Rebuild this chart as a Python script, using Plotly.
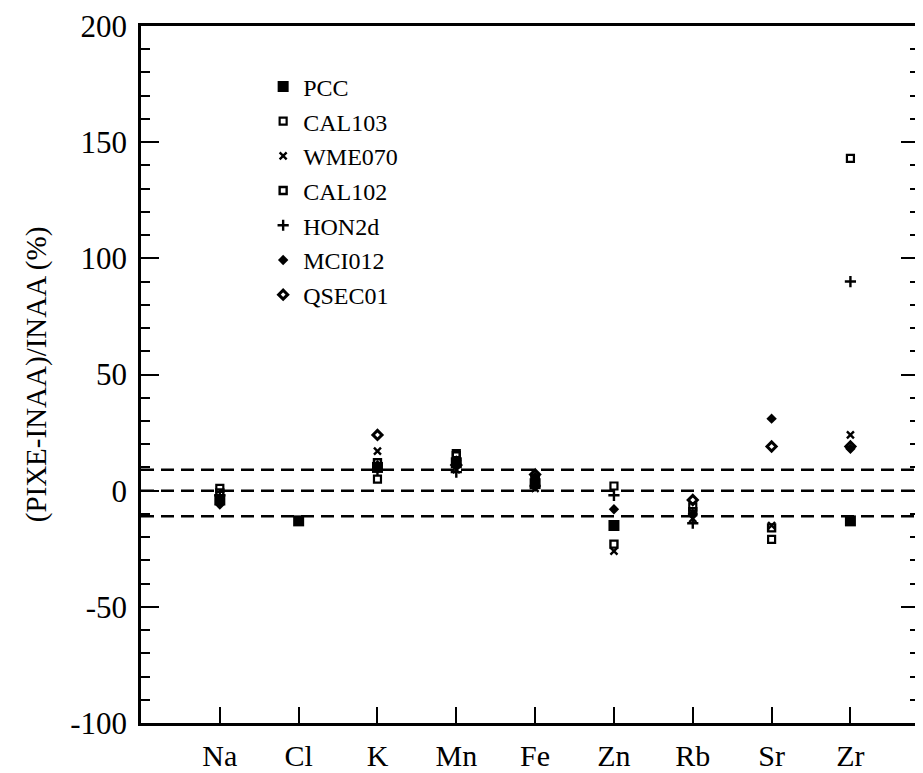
import plotly.graph_objects as go

elements = ["Na", "Cl", "K", "Mn", "Fe", "Zn", "Rb", "Sr", "Zr"]

pcc    = [-4, -13, 10, 12, 3, -15, None, None, -13]
cal103 = [1, None, 5, 16, 5, 2, -7, -21, 143]
wme070 = [-3, None, 17, 9, 1, -26, -12, -15, 24]
cal102 = [-1, None, 12, 15, 4, -23, -9, -16, None]
hon2d  = [-2, None, 9, 8, 2, -2, -14, None, 90]
mci012 = [-6, None, 11, 13, 6, -8, -10, 31, 18]
qsec01 = [None, None, 24, 11, 7, None, -4, 19, 19]

series_names = ["PCC", "CAL103", "WME070", "CAL102", "HON2d", "MCI012", "QSEC01"]
series_vals = [pcc, cal103, wme070, cal102, hon2d, mci012, qsec01]

ref_lines = [9, 0, -11]
y_ticks = [-100, -50, 0, 50, 100, 150, 200]
y_tick_text = ["-100", "-50", "0", "50", "100", "150", "200"]

styles = {
    "PCC":    dict(symbol="square", size=11, color="black", line=dict(width=0)),
    "CAL103": dict(symbol="square-open", size=7, color="black", line=dict(width=2.2, color="black")),
    "WME070": dict(symbol="x-thin-open", size=7, color="black", line=dict(width=2.4, color="black")),
    "CAL102": dict(symbol="square-open", size=7, color="black", line=dict(width=2.4, color="black")),
    "HON2d":  dict(symbol="cross-thin-open", size=8, color="black", line=dict(width=2.4, color="black")),
    "MCI012": dict(symbol="diamond", size=8, color="black", line=dict(width=0)),
    "QSEC01": dict(symbol="diamond-open", size=7, color="black", line=dict(width=3, color="black")),
}

fig = go.Figure()
for name, vals in zip(series_names, series_vals):
    xs = [e for e, v in zip(elements, vals) if v is not None]
    ys = [v for v in vals if v is not None]
    fig.add_trace(go.Scatter(x=xs, y=ys, mode="markers", name=name,
                             legendgroup=name, marker=styles[name]))

for v in ref_lines:
    fig.add_shape(type="line", xref="paper", x0=0, x1=1, yref="y", y0=v, y1=v,
                  line=dict(color="black", width=2.5, dash="13px,7px"), layer="below")

font_family = "Liberation Serif, Times New Roman, serif"

fig.update_layout(
    width=915, height=765,
    margin=dict(l=133, r=1, t=17, b=50),
    paper_bgcolor="white", plot_bgcolor="white",
    font=dict(family=font_family, color="black", size=28),
    showlegend=True,
    legend=dict(x=0.157, y=0.945, xanchor="left", yanchor="top",
                font=dict(family=font_family, size=24, color="black"),
                bgcolor="rgba(0,0,0,0)", itemwidth=30, tracegroupgap=0.5),
    xaxis=dict(type="category", categoryorder="array", categoryarray=elements,
               range=[-1, 8.87], showgrid=False, zeroline=False,
               showline=True, linecolor="black", linewidth=2.5, mirror=True,
               ticks="inside", ticklen=16, tickwidth=2, tickcolor="black",
               ticklabelstandoff=4,
               tickfont=dict(size=30, family=font_family)),
    yaxis=dict(range=[-100, 200], tickvals=y_ticks, ticktext=y_tick_text,
               showgrid=False, zeroline=False,
               showline=True, linecolor="black", linewidth=2.5, mirror="ticks",
               ticks="inside", ticklen=18, tickwidth=2, tickcolor="black",
               ticklabelstandoff=5, ticklabeloverflow="allow",
               minor=dict(dtick=10, ticks="inside", ticklen=9, tickwidth=2, tickcolor="black"),
               tickfont=dict(size=31, family=font_family),
               title=dict(text="(PIXE-INAA)/INAA (%)", font=dict(size=29, family=font_family),
                          standoff=16)),
)

fig.write_html("out.html")
